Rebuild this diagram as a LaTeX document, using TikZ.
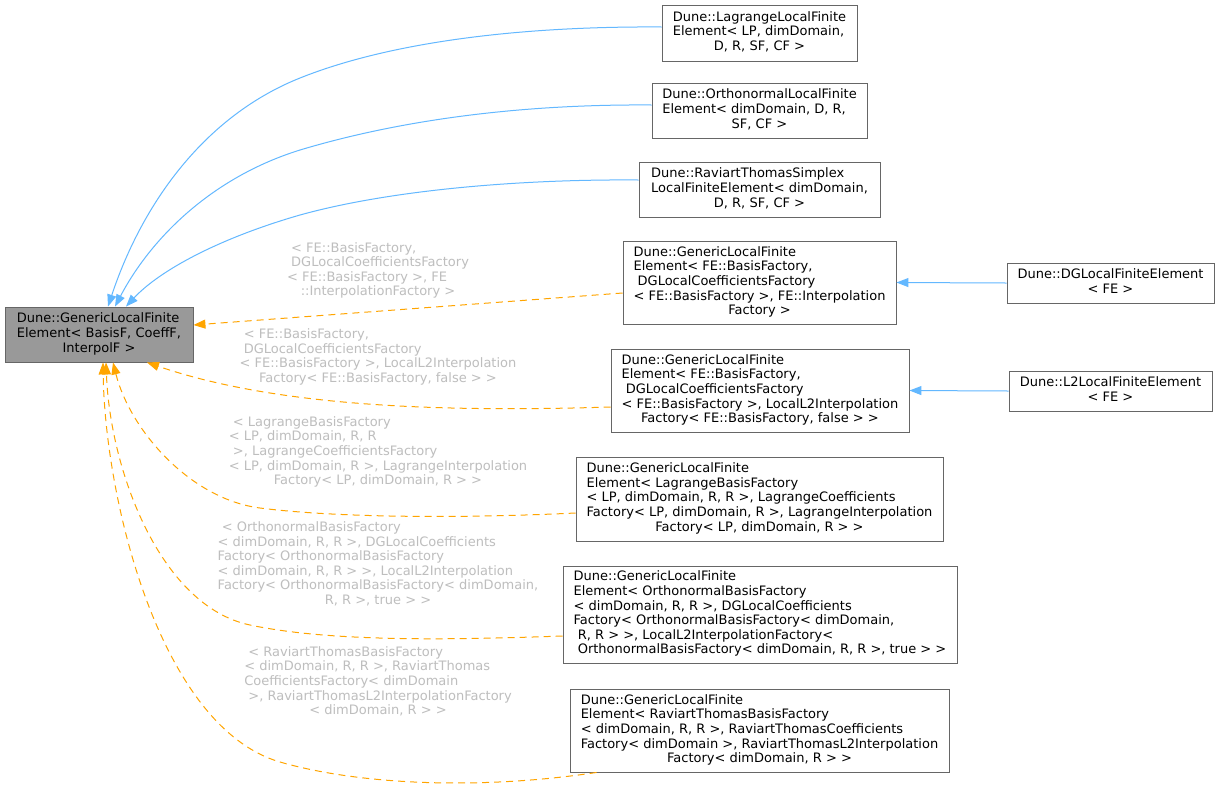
\documentclass[tikz,border=0pt]{standalone}
\usepackage{fontspec}
\setmainfont{DejaVu Sans}
\usetikzlibrary{arrows.meta,calc}
\definecolor{edgeblue}{HTML}{63B8FF}
\definecolor{edgeorange}{HTML}{FFA500}
\definecolor{labelgray}{HTML}{BEBEBE}
\definecolor{boxgray}{HTML}{666666}
\definecolor{basefill}{HTML}{999999}
\newcommand\mytab[2]{\begin{tabular}{@{}l@{}}#1\\\multicolumn{1}{@{}c@{}}{#2}\end{tabular}}
\begin{document}
\begin{tikzpicture}[x=1pt,y=-1pt,
  box/.style={draw=boxgray, line width=0.9pt, fill=white, inner sep=0pt, font=\fontsize{13}{14.6}\selectfont, text=black},
  basebox/.style={box, fill=basefill},
  lbl/.style={inner sep=0pt, font=\fontsize{13}{14.6}\selectfont, text=labelgray},
  inhblue/.style={draw=edgeblue, line width=1pt, -{Triangle[length=12pt,width=9pt]}},
  tmpl/.style={draw=edgeorange, line width=1pt, dash pattern=on 7pt off 5pt, -{Triangle[length=12pt,width=9pt]}}]
\useasboundingbox[fill=white] (0,0) rectangle (1220,793);
% nodes
\node[basebox, minimum width=188, minimum height=55] (base) at (99,334.5) {\mytab{Dune::GenericLocalFinite\\Element< BasisF, CoeffF,}{InterpolF >}};
\node[box, minimum width=195, minimum height=56] (lag) at (759.5,33) {\mytab{Dune::LagrangeLocalFinite\\Element< LP, dimDomain,}{D, R, SF, CF >}};
\node[box, minimum width=215, minimum height=55] (orth) at (759.5,110.5) {\mytab{Dune::OrthonormalLocalFinite\\Element< dimDomain, D, R,}{SF, CF >}};
\node[box, minimum width=241, minimum height=55] (rts) at (759.5,189.5) {\mytab{Dune::RaviartThomasSimplex\\LocalFiniteElement< dimDomain,}{D, R, SF, CF >}};
\node[box, minimum width=273, minimum height=83] (g1) at (759.5,282.5) {\mytab{Dune::GenericLocalFinite\\Element< FE::BasisFactory,\\\ DGLocalCoefficientsFactory\\< FE::BasisFactory >, FE::Interpolation}{Factory >}};
\node[box, minimum width=298, minimum height=83] (g2) at (760,390.5) {\mytab{Dune::GenericLocalFinite\\Element< FE::BasisFactory,\\\ DGLocalCoefficientsFactory\\< FE::BasisFactory >, LocalL2Interpolation}{Factory< FE::BasisFactory, false > >}};
\node[box, minimum width=367, minimum height=84] (g3) at (759.5,499) {\mytab{Dune::GenericLocalFinite\\Element< LagrangeBasisFactory\\< LP, dimDomain, R, R >, LagrangeCoefficients\\Factory< LP, dimDomain, R >, LagrangeInterpolation}{Factory< LP, dimDomain, R > >}};
\node[box, minimum width=394, minimum height=97] (g4) at (760,614.5) {\mytab{Dune::GenericLocalFinite\\Element< OrthonormalBasisFactory\\< dimDomain, R, R >, DGLocalCoefficients\\Factory< OrthonormalBasisFactory< dimDomain,\\\ R, R > >, LocalL2InterpolationFactory<}{\ OrthonormalBasisFactory< dimDomain, R, R >, true > >}};
\node[box, minimum width=379, minimum height=83] (g5) at (759.5,730.5) {\mytab{Dune::GenericLocalFinite\\Element< RaviartThomasBasisFactory\\< dimDomain, R, R >, RaviartThomasCoefficients\\Factory< dimDomain >, RaviartThomasL2Interpolation}{Factory< dimDomain, R > >}};
\node[box, minimum width=207, minimum height=40] (dg) at (1110.5,283) {\mytab{Dune::DGLocalFiniteElement}{< FE >}};
\node[box, minimum width=203, minimum height=40] (l2fe) at (1110.5,391) {\mytab{Dune::L2LocalFiniteElement}{< FE >}};
% labels
\node[lbl] (lb1) at (378,271) {\mytab{\ < FE::BasisFactory,\\\ DGLocalCoefficientsFactory\\< FE::BasisFactory >, FE}{::InterpolationFactory >}};
\node[lbl] (lb2) at (378,357.5) {\mytab{\ < FE::BasisFactory,\\\ DGLocalCoefficientsFactory\\< FE::BasisFactory >, LocalL2Interpolation}{Factory< FE::BasisFactory, false > >}};
\node[lbl] (lb3) at (378,452.5) {\mytab{\ < LagrangeBasisFactory\\< LP, dimDomain, R, R\\\ >, LagrangeCoefficientsFactory\\< LP, dimDomain, R >, LagrangeInterpolation}{Factory< LP, dimDomain, R > >}};
\node[lbl] (lb4) at (378,565) {\mytab{\ < OrthonormalBasisFactory\\< dimDomain, R, R >, DGLocalCoefficients\\Factory< OrthonormalBasisFactory\\< dimDomain, R, R > >, LocalL2Interpolation\\Factory< OrthonormalBasisFactory< dimDomain,}{R, R >, true > >}};
\node[lbl] (lb5) at (378,682.5) {\mytab{\ < RaviartThomasBasisFactory\\< dimDomain, R, R >, RaviartThomas\\CoefficientsFactory< dimDomain\\\ >, RaviartThomasL2InterpolationFactory}{< dimDomain, R > >}};
% blue inheritance edges
\draw[inhblue] ($(lag.west)+(0,-6)$) .. controls (520,26) and (390,42) .. (300,78) .. controls (200,118) and (140,210) .. ($(base.north)+(9,0)$);
\draw[inhblue] ($(orth.west)+(0,-5.5)$) .. controls (520,104) and (400,120) .. (300,150) .. controls (210,178) and (150,240) .. ($(base.north)+(16,0)$);
\draw[inhblue] ($(rts.west)+(0,-9.5)$) .. controls (520,179) and (390,190) .. (300,215) .. controls (220,238) and (160,270) .. ($(base.north)+(27,0)$);
\draw[inhblue] (dg.west) -- (g1.east);
\draw[inhblue] (l2fe.west) -- (g2.east);
% orange template edges
\draw[tmpl] ($(g1.west)+(0,10.5)$) -- ($(base.east)+(0,-9.5)$);
\draw[tmpl] ($(g2.west)+(0,16.5)$) .. controls (450,412) and (280,408) .. ($(base.south)+(48,0)$);
\draw[tmpl] ($(g3.west)+(0,14)$) .. controls (450,519) and (330,517) .. (260,508) .. controls (190,499) and (130,430) .. ($(base.south)+(14,0)$);
\draw[tmpl] ($(g4.west)+(0,21.5)$) .. controls (450,640) and (330,642) .. (250,625) .. controls (160,606) and (110,470) .. ($(base.south)+(7,0)$);
\draw[tmpl] ($(g5.south west)+(27,0)$) .. controls (480,790) and (360,785) .. (280,762) .. controls (160,727) and (105,500) .. ($(base.south)+(4,0)$);
\end{tikzpicture}
\end{document}
